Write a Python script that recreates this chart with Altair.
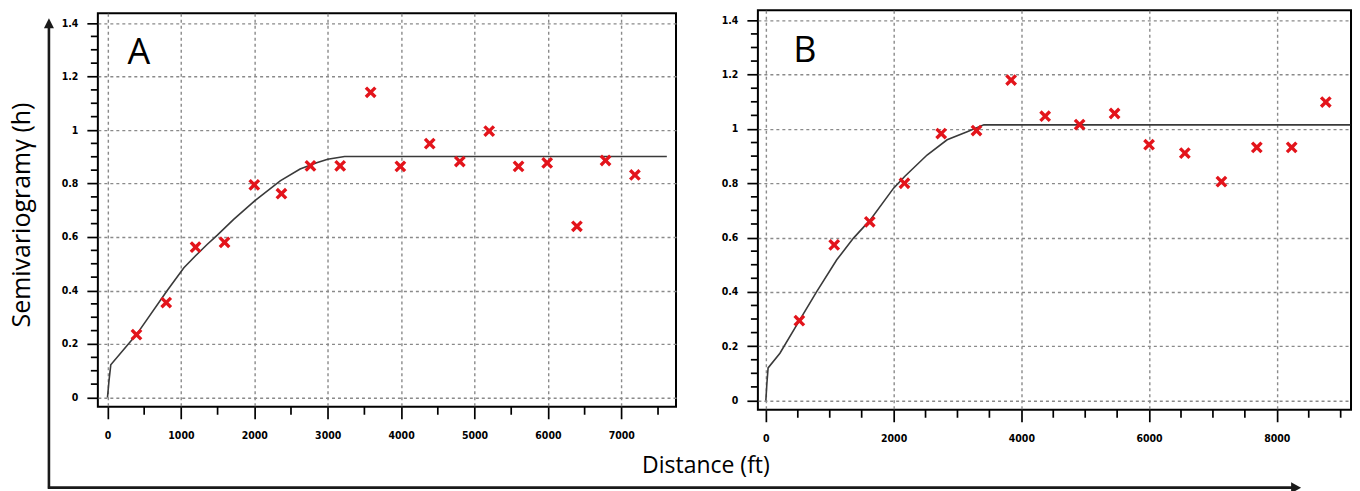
import altair as alt
import pandas as pd

# ---------------- data ----------------
# Panel A (experimental semivariogram + fitted model)
A_dist = [395, 800, 1200, 1595, 2000, 2370, 2765, 3170, 3585, 3990, 4390, 4800, 5200, 5600, 5990, 6395, 6785, 7185]
A_gamma = [0.235, 0.355, 0.562, 0.58, 0.795, 0.762, 0.866, 0.866, 1.141, 0.864, 0.949, 0.882, 0.996, 0.864, 0.877, 0.64, 0.886, 0.832]
A_model_x = [0, 20, 45, 400, 814, 1041, 1200, 1357, 1493, 1719, 2005, 2353, 2624, 2850, 3000, 3230, 7620]
A_model_y = [0, 0.06, 0.122, 0.237, 0.40, 0.485, 0.53, 0.572, 0.606, 0.666, 0.735, 0.81, 0.854, 0.878, 0.891, 0.901, 0.901]

# Panel B
B_dist = [524, 1070, 1627, 2170, 2745, 3298, 3840, 4373, 4913, 5460, 6000, 6560, 7133, 7687, 8233, 8767]
B_gamma = [0.294, 0.573, 0.658, 0.80, 0.983, 0.994, 1.18, 1.047, 1.016, 1.057, 0.942, 0.911, 0.806, 0.932, 0.932, 1.099]
B_model_x = [0, 15, 35, 220, 524, 796, 1110, 1372, 1634, 2000, 2173, 2524, 2838, 3152, 3413, 9150]
B_model_y = [0, 0.06, 0.12, 0.174, 0.294, 0.401, 0.518, 0.598, 0.665, 0.782, 0.825, 0.904, 0.96, 0.99, 1.015, 1.015]

# axes ticks
Y_TICKS = [0, 0.2, 0.4, 0.6, 0.8, 1.0, 1.2, 1.4]
Y_MINOR = [0.05, 0.1, 0.15, 0.25, 0.3, 0.35, 0.45, 0.5, 0.55, 0.65, 0.7, 0.75,
           0.85, 0.9, 0.95, 1.05, 1.1, 1.15, 1.25, 1.3, 1.35]
A_X_TICKS = [0, 1000, 2000, 3000, 4000, 5000, 6000, 7000]
A_X_MINOR = [500, 1500, 2500, 3500, 4500, 5500, 6500, 7500]
B_X_TICKS = [0, 2000, 4000, 6000, 8000]
B_X_MINOR = [500, 1000, 1500, 2500, 3000, 3500, 4500, 5000, 5500, 6500, 7000, 7500, 8500, 9000]

# ---------------- styling ----------------
XSHAPE = "M-1,-0.6L-0.6,-1L0,-0.4L0.6,-1L1,-0.6L0.4,0L1,0.6L0.6,1L0,0.4L-0.6,1L-1,0.6L-0.4,0Z"
RED = "#e3141b"
LABEL_FONT = "DejaVu Sans Condensed"
TITLE_FONT = "Open Sans"
GRID = dict(grid=True, gridColor="#8a8a8a", gridDash=[3, 3], gridWidth=1.4,
            domain=False, tickColor="black", tickWidth=1.7,
            labelFont=LABEL_FONT, labelFontWeight="bold", labelFontSize=10.5,
            labelColor="black", title=None, labelFlush=False, labelOverlap=False)

ONE = alt.Data(values=[{"k": 1}])


def panel(dist, gamma, mx, my, xdom, ydom, xticks, xminor, w, h, letter, letter_xy, extras):
    xs = alt.Scale(domain=xdom, nice=False, zero=False)
    ys = alt.Scale(domain=ydom, nice=False, zero=False)
    xax = alt.Axis(values=xticks, format="d", tickSize=12, labelPadding=12, **GRID)
    yax = alt.Axis(values=Y_TICKS, format="~g", tickSize=11, labelPadding=9, **GRID)

    model = alt.Chart(pd.DataFrame({"d": mx, "g": my})).mark_line(
        color="#3a3a3a", strokeWidth=1.6
    ).encode(
        x=alt.X("d:Q", scale=xs, axis=xax),
        y=alt.Y("g:Q", scale=ys, axis=yax),
    )

    pts = alt.Chart(pd.DataFrame({"d": dist, "g": gamma})).mark_point(
        shape=XSHAPE, filled=True, size=140, color=RED, opacity=1, strokeWidth=0
    ).encode(
        x=alt.X("d:Q", scale=xs, axis=xax),
        y=alt.Y("g:Q", scale=ys, axis=yax),
    )

    yminor = alt.Chart(pd.DataFrame({"g": Y_MINOR})).mark_rule(
        color="black", strokeWidth=1.7
    ).encode(
        y=alt.Y("g:Q", scale=ys, axis=yax),
        x=alt.value(-7), x2=alt.value(0),
    )

    xminor_l = alt.Chart(pd.DataFrame({"d": xminor})).mark_rule(
        color="black", strokeWidth=1.7
    ).encode(
        x=alt.X("d:Q", scale=xs, axis=xax),
        y=alt.value(h), y2=alt.value(h + 8),
    )

    lab = alt.Chart(ONE).mark_text(
        text=letter, font=TITLE_FONT, fontSize=36, color="black",
        align="center", baseline="middle"
    ).encode(x=alt.value(letter_xy[0]), y=alt.value(letter_xy[1]))

    layers = list(extras[:1]) + [model, pts, yminor, xminor_l, lab] + list(extras[1:])
    return alt.layer(*layers).properties(width=w, height=h)


# Panel A geometry (origin of plot area at x=97, y=12 in the picture)
WA, HA = 579, 394
WB, HB = 594, 400

bg = alt.Chart(ONE).mark_rect(opacity=0).encode(
    x=alt.value(-97), x2=alt.value(1263), y=alt.value(-12), y2=alt.value(479)
)
v_arrow = alt.Chart(ONE).mark_rule(color="#1a1a1a", strokeWidth=2.6).encode(
    x=alt.value(-49), y=alt.value(12), y2=alt.value(476)
)
v_head = alt.Chart(ONE).mark_point(
    shape="M0,-1L0.5,0L-0.5,0Z", size=400, filled=True, color="#1a1a1a", opacity=1, strokeWidth=0
).encode(x=alt.value(-49), y=alt.value(15))
h_arrow = alt.Chart(ONE).mark_rule(color="#1a1a1a", strokeWidth=2.6).encode(
    x=alt.value(-50), x2=alt.value(1198), y=alt.value(475)
)
h_head = alt.Chart(ONE).mark_point(
    shape="M1,0L0,-0.55L0,0.55Z", size=400, filled=True, color="#1a1a1a", opacity=1, strokeWidth=0
).encode(x=alt.value(1195), y=alt.value(475))
y_title = alt.Chart(ONE).mark_text(
    text="Semivariogramγ (h)", font=TITLE_FONT, fontSize=25, angle=270,
    align="center", baseline="middle", color="black"
).encode(x=alt.value(-76), y=alt.value(202))
x_title = alt.Chart(ONE).mark_text(
    text="Distance (ft)", font=TITLE_FONT, fontSize=23,
    align="center", baseline="middle", color="black"
).encode(x=alt.value(609), y=alt.value(453))

panelA = panel(A_dist, A_gamma, A_model_x, A_model_y,
               [-131, 7745], [-0.0347, 1.4362], A_X_TICKS, A_X_MINOR,
               WA, HA, "A", (41, 40),
               [bg, v_arrow, v_head, h_arrow, h_head, y_title, x_title])

panelB = panel(B_dist, B_gamma, B_model_x, B_model_y,
               [-125, 9162], [-0.0342, 1.4368], B_X_TICKS, B_X_MINOR,
               WB, HB, "B", (47, 41), [])

chart = alt.hconcat(panelA, panelB, spacing=82, bounds="flush", center=True).properties(
    padding=0
).configure(background="white").configure_view(stroke="black", strokeWidth=2)

chart.save("out.html", embed_options={"renderer": "svg", "actions": False})
